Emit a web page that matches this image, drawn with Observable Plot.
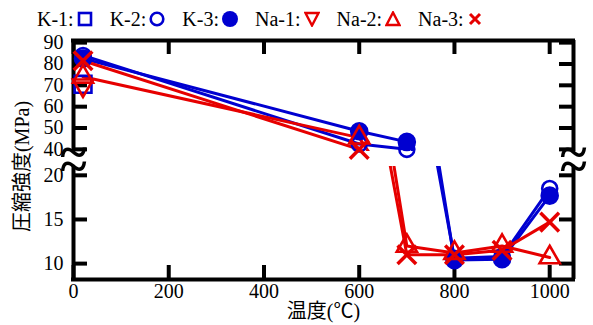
<!DOCTYPE html>
<html><head><meta charset="utf-8">
<script src="https://cdn.jsdelivr.net/npm/d3@7"></script>
<script src="https://cdn.jsdelivr.net/npm/@observablehq/plot@0.6"></script>
<style>
body{margin:0;background:#fff;font-family:"Liberation Serif","Noto Sans CJK JP",serif;color:#000;}
#legend{height:30px;box-sizing:border-box;padding-left:37px;padding-top:8px;display:flex;align-items:center;font-size:20px;line-height:22px;}
.item{display:flex;align-items:center;margin-right:17px;}
.item svg{margin-left:3px;}
#gap{height:15px;}
#top svg, #bottom svg{display:block;overflow:visible;background:transparent;font-family:"Liberation Serif","Noto Sans CJK JP",serif;font-size:20px;}
#top svg text, #bottom svg text{font-family:"Liberation Serif","Noto Sans CJK JP",serif !important;font-variant:normal !important;font-variant-numeric:normal !important;}
</style></head><body>
<div id="legend"></div><div id="top"></div><div id="gap"></div><div id="bottom"></div>
<script>
// ---- data ----
const temperatures = [20, 600, 700, 800, 900, 1000];
const seriesNames = ["K-1", "K-2", "K-3", "Na-1", "Na-2", "Na-3"];
const k1  = [70.5, null, null, null, null, null];
const k2  = [84,   42.5, 40,   10.6, 10.8, 18.5];
const k3  = [82.5, 48.5, 43.5, 10.4, 10.5, 17.7];
const na1 = [70,   null, null, null, null, null];
const na2 = [74,   45.5, 12,   11.2, 12,   10.7];
const na3 = [81.5, 40,   11,   11,   11.5, 14.7];
const xTicks = [0, 200, 400, 600, 800, 1000];
const yTicksTop = [40, 50, 60, 70, 80, 90];
const yTicksBottom = [10, 15, 20];
const xLabel = "温度(℃)";
const yLabel = "圧縮強度(MPa)";

// ---- styling ----
const BLUE = "#0000d0", RED = "#e60000";
const SERIF = "Liberation Serif, Noto Sans CJK JP, serif";
const style = {
  "K-1": {color: BLUE, symbol: "square", fill: "none", rotate: 0, r: 9.5},
  "K-2": {color: BLUE, symbol: "circle", fill: "none", rotate: 0, r: 7.5},
  "K-3": {color: BLUE, symbol: "circle", fill: BLUE, rotate: 0, r: 8},
  "Na-1": {color: RED, symbol: "triangle", fill: "none", rotate: 180, r: 7.5},
  "Na-2": {color: RED, symbol: "triangle", fill: "none", rotate: 0, r: 7.5},
  "Na-3": {color: RED, symbol: "times", fill: "none", rotate: 0, r: 8.5}
};
const seriesValues = [k1, k2, k3, na1, na2, na3];
const rows = [];
seriesNames.forEach((name, i) => temperatures.forEach((t, j) => {
  const v = seriesValues[i][j];
  if (v != null) rows.push({series: name, temp: t, value: v});
}));

// ---- legend ----
const legendSvg = {
  square: c => `<rect x="2" y="2" width="12" height="12" fill="none" stroke="${c}" stroke-width="2.6"/>`,
  circleOpen: c => `<circle cx="8" cy="8" r="6.3" fill="none" stroke="${c}" stroke-width="2.6"/>`,
  circleFill: c => `<circle cx="8" cy="8" r="8" fill="${c}"/>`,
  triDown: c => `<polygon points="1.5,2 14.5,2 8,14.5" fill="none" stroke="${c}" stroke-width="2.4"/>`,
  triUp: c => `<polygon points="1.5,14 14.5,14 8,1.5" fill="none" stroke="${c}" stroke-width="2.4"/>`,
  times: c => `<path d="M3,3L13,13M13,3L3,13" stroke="${c}" stroke-width="3"/>`
};
function legendKey(name) {
  const s = style[name];
  if (s.symbol === "square") return legendSvg.square(s.color);
  if (s.symbol === "circle") return s.fill === "none" ? legendSvg.circleOpen(s.color) : legendSvg.circleFill(s.color);
  if (s.symbol === "triangle") return s.rotate ? legendSvg.triDown(s.color) : legendSvg.triUp(s.color);
  return legendSvg.times(s.color);
}
document.getElementById("legend").innerHTML = seriesNames.map(n =>
  `<span class="item">${n}:<svg width="16" height="16" viewBox="0 0 16 16">${legendKey(n)}</svg></span>`).join("");

// ---- chart (broken y axis: two stacked panels) ----
const W = 593, mL = 73, mR = 20, plotW = W - mL - mR;
const X_MAX = 1050, TICK = 14;
const TOP = {lo: 39, hi: 91, H: 121, mT: 10, mB: 0};
const BOT = {lo: 8.2, hi: 21, H: 159, mT: 0, mB: 46};

function lineMarks() {
  return seriesNames.map(n => Plot.line(rows.filter(d => d.series === n),
    {x: "temp", y: "value", stroke: style[n].color, strokeWidth: 3, clip: true}));
}
function dotMarks(lo, hi) {
  return seriesNames.map(n => {
    const s = style[n];
    return Plot.dot(rows.filter(d => d.series === n && d.value >= lo && d.value <= hi), {
      x: "temp", y: "value", symbol: s.symbol, r: s.r, rotate: s.rotate,
      stroke: s.color, fill: s.fill, strokeWidth: s.symbol === "times" ? 3.5 : 2.6
    });
  });
}
function panel(P, yTicks, isTop) {
  const plotH = P.H - P.mT - P.mB;
  const breakY = isTop ? P.lo : P.hi;
  const edgeY = isTop ? P.hi : P.lo;
  const marks = [
    ...lineMarks(),
    Plot.ruleX([0, X_MAX], {strokeWidth: 4}),
    Plot.ruleY([edgeY], {strokeWidth: 4, strokeLinecap: "square"}),
    Plot.tickY(yTicks, {y: d => d, insetRight: plotW - TICK, strokeWidth: 4}),
    Plot.tickY(yTicks, {y: d => d, insetLeft: plotW - TICK, strokeWidth: 4}),
    isTop ? Plot.tickX(xTicks, {x: d => d, insetBottom: plotH - TICK, strokeWidth: 4})
          : Plot.tickX(xTicks, {x: d => d, insetTop: plotH - TICK, strokeWidth: 4}),
    Plot.text([0, X_MAX], {x: d => d, y: () => breakY, text: () => "~", fontSize: 50, fontWeight: "bold", fontFamily: SERIF, lineAnchor: "middle", dy: isTop ? 1 : 0}),
    Plot.axisY(yTicks, {tickSize: 0, tickPadding: 10, tickFormat: d => String(d), fontFamily: SERIF, fontVariant: "normal", fontSize: 20, label: null}),
    ...dotMarks(P.lo, P.hi)
  ];
  if (!isTop) {
    marks.push(Plot.axisX(xTicks, {tickSize: 0, tickPadding: 4, tickFormat: d => String(d), fontFamily: SERIF, fontVariant: "normal", fontSize: 20, label: null}));
    marks.push(Plot.text([xLabel], {text: d => d, frameAnchor: "bottom", lineAnchor: "middle", textAnchor: "middle", dy: 32, fontSize: 20, fontFamily: SERIF}));
    marks.push(Plot.text([yLabel], {text: d => d, frameAnchor: "left", lineAnchor: "middle", textAnchor: "middle", rotate: -90, dx: -51, dy: -(plotH / 2), fontSize: 20, fontFamily: SERIF}));
  }
  return Plot.plot({
    width: W, height: P.H,
    marginTop: P.mT, marginBottom: P.mB, marginLeft: mL, marginRight: mR,
    style: {fontFamily: SERIF, fontSize: "20px", overflow: "visible", background: "transparent", color: "black"},
    x: isTop ? {domain: [0, X_MAX], axis: null} : {domain: [0, X_MAX]},
    y: {domain: [P.lo, P.hi]},
    marks
  });
}
document.getElementById("top").appendChild(panel(TOP, yTicksTop, true));
document.getElementById("bottom").appendChild(panel(BOT, yTicksBottom, false));
</script>
</body></html>
